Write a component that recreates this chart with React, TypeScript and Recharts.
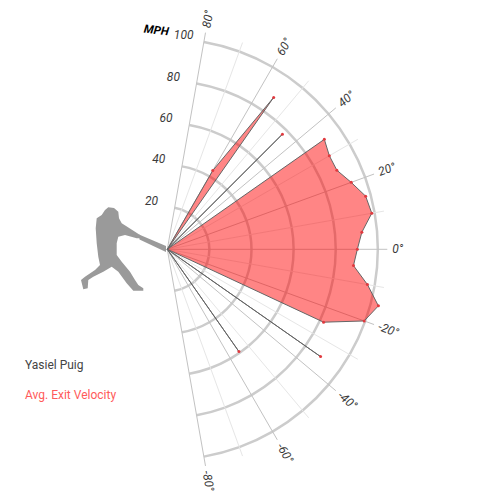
import React from 'react';
import {
  PieChart,
  Pie,
  RadarChart,
  Radar,
  PolarGrid,
  PolarAngleAxis,
  PolarRadiusAxis,
} from 'recharts';

// launch angle bins (deg), top to bottom
const launchAngles = [
  90, 85, 80, 75, 70, 65, 60, 55, 50, 45, 40, 35, 30, 25, 20, 15, 10, 5, 0,
  -5, -10, -15, -20, -25, -30, -35, -40, -45, -50, -55, -60, -65, -70, -75,
  -80, -85, -90,
];
// avg exit velocity per bin (mph), 0 = no batted balls
const exitVelocity = [
  0, 0, 0, 0, 0, 0, 43.4, 88.5, 0, 77.7, 0, 91.5, 89.3, 89.3, 93.4, 98, 99.1,
  93.2, 90.7, 89.2, 97, 104.3, 100, 82.3, 0, 89.3, 0, 0, 0, 59.6, 0, 0, 0, 0,
  0, 0, 0,
];
const angleTicks = [-80, -60, -40, -20, 0, 20, 40, 60, 80];
const minorSpokes = [-70, -50, -30, -10, 10, 30, 50, 70];
const mphTicks = [20, 40, 60, 80, 100];
const playerName = 'Yasiel Puig';
const seriesName = 'Avg. Exit Velocity';

const CX = 167.3;
const CY = 249.3;
const OUTER = 220; // spokes run a little past the 100 mph ring
const MPH_MAX = 104.5;

const table = launchAngles.map((angle, i) => ({ angle, mph: exitVelocity[i] }));
const ringRadius = (v: number) => (v / MPH_MAX) * OUTER;

const labelFont = {
  fontFamily: 'Roboto',
  fontSize: 12,
  fontStyle: 'italic' as const,
  fontWeight: 400,
  fill: '#3a3a3a',
};

const AngleTick = (props: any) => {
  const { x, y, payload } = props;
  return (
    <text
      x={x}
      y={y}
      transform={`rotate(${-payload.value} ${x} ${y})`}
      textAnchor="start"
      dominantBaseline="central"
      {...labelFont}
    >
      {`${payload.value}°`}
    </text>
  );
};

const MphTick = (props: any) => {
  const { x, y, payload } = props;
  const dx = payload.value >= 100 ? -20 : -23;
  return (
    <text
      x={x + dx}
      y={y - 7.5}
      textAnchor="middle"
      dominantBaseline="central"
      {...labelFont}
    >
      {payload.value}
    </text>
  );
};

const BinDot = (props: any) => {
  const { cx, cy, value } = props;
  if (!value) return null;
  return <circle cx={cx} cy={cy} r={1.5} fill="#e0393e" />;
};

const layer: React.CSSProperties = { position: 'absolute', left: 0, top: 0 };

const batterPath =
  'M105 210 L108.3 207.3 L114 208 L118.3 211.7 L119 218.3 L121.7 223.3 L135 231.7 L140 235 L141.7 238.3 ' +
  'L136.7 238.3 L125 235 L118.3 236.7 L116.7 243.3 L116.7 255 L121.7 261.7 L130 271.7 L135 280 ' +
  'L138.3 285 L143.3 288.3 L143.3 290.7 L133.3 290.7 L126.7 283.3 L118.3 271.7 L111.7 266.7 ' +
  'L103.3 271.7 L93.3 276.7 L88.3 280 L87.7 288.3 L83.3 289.3 L81 280 L85 276.7 L95 270 ' +
  'L100 265 L98.3 256.7 L96.7 243.3 L95.7 228.3 L96.7 218.3 L101.7 215 Z';

export default function App() {
  return (
    <div
      style={{
        position: 'absolute',
        left: 0,
        top: 0,
        width: 500,
        height: 500,
        background: '#fff',
        fontFamily: 'Roboto',
      }}
    >
      {/* mph rings */}
      <div style={layer}>
        <PieChart width={500} height={500} margin={{ top: 0, right: 0, bottom: 0, left: 0 }}>
          {mphTicks.map((v) => (
            <Pie
              key={v}
              data={[{ v: 1 }]}
              dataKey="v"
              cx={CX}
              cy={CY}
              innerRadius={ringRadius(v) - 1.25}
              outerRadius={ringRadius(v) + 1.25}
              startAngle={80}
              endAngle={-80}
              fill="#cccccc"
              stroke="none"
              isAnimationActive={false}
            />
          ))}
        </PieChart>
      </div>

      {/* batter silhouette */}
      <svg style={layer} width={500} height={500}>
        <path d={batterPath} fill="#9a9a9a" />
        <path d="M139 234.5 L166 246 L166 252 L139.5 239.5 Z" fill="#9a9a9a" />
      </svg>

      {/* spokes + exit velocity polygon */}
      <div style={layer}>
        <RadarChart
          width={500}
          height={500}
          data={table}
          cx={CX}
          cy={CY}
          innerRadius={0}
          outerRadius={OUTER}
          startAngle={-90}
          endAngle={90}
          margin={{ top: 0, right: 0, bottom: 0, left: 0 }}
        >
          <PolarGrid polarAngles={minorSpokes} polarRadius={[]} stroke="#e6e6e6" />
          <PolarGrid polarAngles={angleTicks} polarRadius={[]} stroke="#c2c2c2" />
          <PolarAngleAxis
            dataKey="angle"
            type="number"
            domain={[-90, 90]}
            ticks={angleTicks}
            tick={<AngleTick />}
            tickSize={5}
            tickLine={false}
            axisLine={false}
          />
          <PolarRadiusAxis
            type="number"
            domain={[0, MPH_MAX]}
            ticks={mphTicks}
            angle={80}
            tick={<MphTick />}
            tickLine={false}
            axisLine={false}
          />
          <Radar
            dataKey="mph"
            name={seriesName}
            fill="#ff0000"
            fillOpacity={0.48}
            stroke="#666"
            strokeWidth={1}
            dot={<BinDot />}
            isAnimationActive={false}
          />
        </RadarChart>
      </div>

      <svg style={layer} width={500} height={500}>
        <text
          x={144}
          y={34}
          transform="rotate(7 156 30)"
          fontFamily="Roboto"
          fontSize={11.5}
          fontStyle="italic"
          fontWeight={700}
          fill="#000"
        >
          MPH
        </text>
        <text x={25} y={369} fontFamily="Roboto" fontSize={12} fill="#444">
          {playerName}
        </text>
        <text x={25} y={399} fontFamily="Roboto" fontSize={12} fill="#ff5a5a">
          {seriesName}
        </text>
      </svg>
    </div>
  );
}
